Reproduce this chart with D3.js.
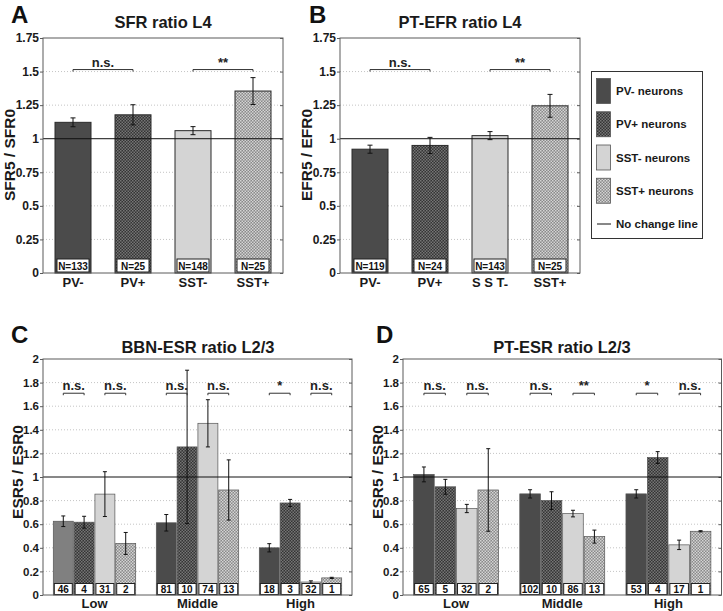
<!DOCTYPE html>
<html>
<head>
<meta charset="utf-8">
<script src="https://cdn.jsdelivr.net/npm/d3@7"></script>
<style>
  html, body { margin: 0; padding: 0; background: #fff; }
  svg { display: block; font-family: "Liberation Sans", Arial, Helvetica, sans-serif; font-weight: bold; }
</style>
</head>
<body>
<svg id="chart" width="723" height="611"></svg>
<script>
// ---------- DATA ----------
const l4Categories = ["PV-", "PV+", "SST-", "SST+"];
const sfrMeans = [1.122, 1.178, 1.06, 1.355];
const sfrErr   = [0.033, 0.075, 0.03, 0.1];
const sfrN     = [133, 25, 148, 25];
const sfrXLabels = ["PV-", "PV+", "SST-", "SST+"];

const efrMeans = [0.922, 0.95, 1.023, 1.245];
const efrErr   = [0.03, 0.06, 0.03, 0.085];
const efrN     = [119, 24, 143, 25];
const efrXLabels = ["PV-", "PV+", "S S T", "SST+"];

const l4Ticks      = [0, 0.25, 0.5, 0.75, 1, 1.25, 1.5, 1.75];
const l4TickLabels = ["0", "0.25", "0.5", "0.75", "1", "1.25", "1.5", "1.75"];
const l4SigPairs   = [[0, 1], [2, 3]];
const l4SigLabels  = ["n.s.", "**"];

const l23Groups = ["Low", "Middle", "High"];
const l23Series = ["PV-", "PV+", "SST-", "SST+"];
const bbnMeans = [[0.625, 0.617, 0.855, 0.437], [0.612, 1.255, 1.455, 0.89], [0.40, 0.78, 0.11, 0.145]];
const bbnErr   = [[0.045, 0.05, 0.19, 0.093], [0.07, 0.65, 0.2, 0.255], [0.035, 0.03, 0.01, 0.005]];
const bbnN     = [[46, 4, 31, 2], [81, 10, 74, 13], [18, 3, 32, 1]];
const bbnSig   = [["n.s.", "n.s."], ["n.s.", "n.s."], ["*", "n.s."]];

const ptMeans = [[1.022, 0.917, 0.733, 0.89], [0.857, 0.80, 0.69, 0.495], [0.857, 1.165, 0.425, 0.54]];
const ptErr   = [[0.063, 0.063, 0.035, 0.35], [0.035, 0.075, 0.028, 0.055], [0.035, 0.05, 0.04, 0.005]];
const ptN     = [[65, 5, 32, 2], [102, 10, 86, 13], [53, 4, 17, 1]];
const ptSig   = [["n.s.", "n.s."], ["n.s.", "**"], ["*", "n.s."]];

const l23Ticks      = [0, 0.2, 0.4, 0.6, 0.8, 1, 1.2, 1.4, 1.6, 1.8, 2];
const l23TickLabels = ["0", "0.2", "0.4", "0.6", "0.8", "1", "1.2", "1.4", "1.6", "1.8", "2"];

const legendLabels = ["PV- neurons", "PV+ neurons", "SST- neurons", "SST+ neurons", "No change line"];

// ---------- STYLE ----------
const svg = d3.select("#chart");
const defs = svg.append("defs");
function checker(id, c1, c2) {
  const p = defs.append("pattern").attr("id", id).attr("patternUnits", "userSpaceOnUse")
    .attr("width", 3).attr("height", 3);
  p.append("rect").attr("width", 3).attr("height", 3).attr("fill", c1);
  p.append("rect").attr("x", 0).attr("y", 0).attr("width", 1.5).attr("height", 1.5).attr("fill", c2);
  p.append("rect").attr("x", 1.5).attr("y", 1.5).attr("width", 1.5).attr("height", 1.5).attr("fill", c2);
}
checker("pvPlus", "#343434", "#757575");
checker("sstPlus", "#8a8a8a", "#d4d4d4");
const fills = ["#4b4b4b", "url(#pvPlus)", "#d4d4d4", "url(#sstPlus)"];
const frameColor = "#5a5a5a";

// ---------- helpers ----------
function frame(g, x0, x1, y, ticks, labels, fontSize) {
  g.append("g").selectAll("line").data(ticks.filter(t => t !== 0 && t !== 1 && t !== ticks[ticks.length - 1]))
    .join("line")
    .attr("x1", x0).attr("x2", x1).attr("y1", d => y(d)).attr("y2", d => y(d))
    .attr("stroke", "#c4c4c4").attr("stroke-width", 1).attr("stroke-dasharray", "1,2");
  const ax = d3.axisLeft(y).tickValues(ticks).tickFormat((d, i) => labels[i]).tickSize(3).tickPadding(1);
  const ga = g.append("g").attr("transform", `translate(${x0},0)`).call(ax);
  ga.select(".domain").remove();
  ga.selectAll(".tick line").attr("stroke", frameColor);
  ga.selectAll(".tick text").attr("font-size", fontSize).attr("font-weight", "bold")
    .attr("font-family", "Liberation Sans, Arial, sans-serif").attr("fill", "#1a1a1a");
  const ar = d3.axisRight(y).tickValues(ticks).tickFormat("").tickSize(-3);
  const gr = g.append("g").attr("transform", `translate(${x1},0)`).call(ar);
  gr.select(".domain").remove();
  gr.selectAll(".tick line").attr("stroke", frameColor);
}
function box(g, x0, x1, yTop, yBot) {
  g.append("rect").attr("x", x0).attr("y", yTop).attr("width", x1 - x0).attr("height", yBot - yTop)
    .attr("fill", "none").attr("stroke", frameColor).attr("stroke-width", 1);
}
function errBar(g, cx, y, m, e, cap) {
  g.append("line").attr("x1", cx).attr("x2", cx).attr("y1", y(m - e)).attr("y2", y(m + e))
    .attr("stroke", "#111").attr("stroke-width", 1);
  [m - e, m + e].forEach(v => g.append("line").attr("x1", cx - cap).attr("x2", cx + cap)
    .attr("y1", y(v)).attr("y2", y(v)).attr("stroke", "#111").attr("stroke-width", 1));
}
function sig(g, xa, xb, yLine, label) {
  g.append("path").attr("d", `M${xa},${yLine + 2}V${yLine}H${xb}V${yLine + 2}`)
    .attr("fill", "none").attr("stroke", "#333").attr("stroke-width", 1);
  g.append("text").attr("x", (xa + xb) / 2).attr("y", yLine - 3).attr("text-anchor", "middle")
    .attr("font-size", 13).attr("fill", "#222").text(label);
}
function yLabel(x, yc, size, text) {
  svg.append("text").attr("transform", `translate(${x},${yc}) rotate(-90)`).attr("text-anchor", "middle")
    .attr("font-size", size).attr("fill", "#1a1a1a").text(text);
}
function title(x, y, text) {
  svg.append("text").attr("x", x).attr("y", y).attr("text-anchor", "middle").attr("font-size", 16.5)
    .attr("fill", "#1a1a1a").text(text);
}
function letter(x, y, t) {
  svg.append("text").attr("x", x).attr("y", y).attr("font-size", 24).attr("fill", "#111").text(t);
}

// ---------- L4 panels ----------
function l4Panel(x0, x1, means, errs, ns, xLabels, special) {
  const y = d3.scaleLinear().domain([0, 1.75]).range([273, 38]);
  const x = d3.scaleBand().domain(l4Categories).range([x0, x1]).paddingInner(0.4).paddingOuter(0.2);
  const g = svg.append("g");
  frame(g, x0, x1, y, l4Ticks, l4TickLabels, 12);
  g.selectAll("rect.bar").data(l4Categories).join("rect").attr("class", "bar")
    .attr("x", d => x(d)).attr("width", x.bandwidth())
    .attr("y", (d, i) => y(means[i])).attr("height", (d, i) => y(0) - y(means[i]))
    .attr("fill", (d, i) => fills[i]).attr("stroke", "#2a2a2a").attr("stroke-width", 1);
  l4Categories.forEach((c, i) => {
    const bx = x(c), bw = x.bandwidth();
    g.append("rect").attr("x", bx + 2).attr("y", y(0) - 14).attr("width", bw - 4).attr("height", 13)
      .attr("fill", "#fff").attr("stroke", "#222").attr("stroke-width", 1);
    g.append("text").attr("x", bx + bw / 2).attr("y", y(0) - 3.5).attr("text-anchor", "middle")
      .attr("font-size", 10).attr("fill", "#111").text("N=" + ns[i]);
  });
  g.append("line").attr("x1", x0).attr("x2", x1).attr("y1", y(1)).attr("y2", y(1))
    .attr("stroke", "#111").attr("stroke-width", 1);
  l4Categories.forEach((c, i) => errBar(g, x(c) + x.bandwidth() / 2, y, means[i], errs[i], 2.5));
  l4SigPairs.forEach((p, k) => sig(g, x(l4Categories[p[0]]) + x.bandwidth() / 2,
    x(l4Categories[p[1]]) + x.bandwidth() / 2, y(1.515), l4SigLabels[k]));
  box(g, x0, x1, 38, 273);
  l4Categories.forEach((c, i) => {
    const t = g.append("text").attr("x", x(c) + x.bandwidth() / 2).attr("y", 286.5)
      .attr("text-anchor", "middle").attr("font-size", 13).attr("fill", "#1a1a1a");
    if (special && i === 2) {
      t.append("tspan").text(xLabels[i]);
      t.append("tspan").attr("dy", 2.5).attr("font-size", 13).text("-");
    } else t.text(xLabels[i]);
  });
}
l4Panel(43, 283, sfrMeans, sfrErr, sfrN, sfrXLabels, false);
l4Panel(340, 580, efrMeans, efrErr, efrN, efrXLabels, true);
letter(11, 23, "A"); letter(309, 23, "B");
title(163, 28, "SFR ratio L4"); title(460, 28, "PT-EFR ratio L4");
yLabel(14.5, 155, 15.5, "SFR5 / SFR0");
yLabel(312, 155, 15.5, "EFR5 / EFR0");

// ---------- legend ----------
const lg = svg.append("g");
lg.append("rect").attr("x", 591.5).attr("y", 71.5).attr("width", 111).attr("height", 167)
  .attr("fill", "#fff").attr("stroke", "#333").attr("stroke-width", 1);
const legY = d3.scalePoint().domain(legendLabels).range([91, 224]);
legendLabels.forEach((lab, i) => {
  const cy = legY(lab);
  if (i < 4) {
    lg.append("rect").attr("x", 596.5).attr("y", cy - 12.5).attr("width", 14).attr("height", 25)
      .attr("fill", fills[i]).attr("stroke", "#555").attr("stroke-width", 0.8);
  } else {
    lg.append("line").attr("x1", 597).attr("x2", 611).attr("y1", cy).attr("y2", cy)
      .attr("stroke", "#111").attr("stroke-width", 1);
  }
  lg.append("text").attr("x", 616).attr("y", cy + 4).attr("font-size", 11.5).attr("fill", "#1a1a1a").text(lab);
});

// ---------- L2/3 panels ----------
function l23Panel(x0, x1, means, errs, ns, sigs, lightFirst) {
  const y = d3.scaleLinear().domain([0, 2]).range([595, 359]);
  const xg = d3.scaleBand().domain(l23Groups).range([x0, x1]).paddingInner(0.2).paddingOuter(0.1);
  const xs = d3.scaleBand().domain(l23Series).range([0, xg.bandwidth()]).paddingInner(0.04);
  const g = svg.append("g");
  frame(g, x0, x1, y, l23Ticks, l23TickLabels, 11.5);
  l23Groups.forEach((grp, gi) => {
    l23Series.forEach((s, si) => {
      const bx = xg(grp) + xs(s), bw = xs.bandwidth(), m = means[gi][si];
      let f = fills[si];
      if (lightFirst && gi === 0 && si === 0) f = "#808080";
      g.append("rect").attr("x", bx).attr("width", bw).attr("y", y(m)).attr("height", y(0) - y(m))
        .attr("fill", f).attr("stroke", "#555").attr("stroke-width", 0.7);
    });
  });
  l23Groups.forEach((grp, gi) => {
    l23Series.forEach((s, si) => {
      const bx = xg(grp) + xs(s), bw = xs.bandwidth();
      g.append("rect").attr("x", bx + 1).attr("y", y(0) - 11.5).attr("width", bw - 2).attr("height", 11)
        .attr("fill", "#fff").attr("stroke", "#222").attr("stroke-width", 1);
      g.append("text").attr("x", bx + bw / 2).attr("y", y(0) - 2.5).attr("text-anchor", "middle")
        .attr("font-size", 10).attr("fill", "#111").text(ns[gi][si]);
    });
  });
  g.append("line").attr("x1", x0).attr("x2", x1).attr("y1", y(1)).attr("y2", y(1))
    .attr("stroke", "#111").attr("stroke-width", 1);
  l23Groups.forEach((grp, gi) => {
    l23Series.forEach((s, si) => {
      errBar(g, xg(grp) + xs(s) + xs.bandwidth() / 2, y, means[gi][si], errs[gi][si], 2);
    });
    [[0, 1], [2, 3]].forEach((p, k) => {
      const xa = xg(grp) + xs(l23Series[p[0]]) + xs.bandwidth() / 2;
      const xb = xg(grp) + xs(l23Series[p[1]]) + xs.bandwidth() / 2;
      sig(g, xa, xb, y(1.71), sigs[gi][k]);
    });
  });
  box(g, x0, x1, 359, 595);
  l23Groups.forEach(grp => {
    g.append("text").attr("x", xg(grp) + xg.bandwidth() / 2).attr("y", 607.5).attr("text-anchor", "middle")
      .attr("font-size", 13).attr("fill", "#1a1a1a").text(grp);
  });
}
l23Panel(43, 352, bbnMeans, bbnErr, bbnN, bbnSig, true);
l23Panel(403, 721.5, ptMeans, ptErr, ptN, ptSig, false);
letter(11, 343, "C"); letter(376, 343, "D");
title(198, 353, "BBN-ESR ratio L2/3"); title(562, 353, "PT-ESR ratio L2/3");
yLabel(23, 472, 15.5, "ESR5 / ESR0");
yLabel(383, 472, 15.5, "ESR5 / ESR0");
</script>
</body>
</html>
